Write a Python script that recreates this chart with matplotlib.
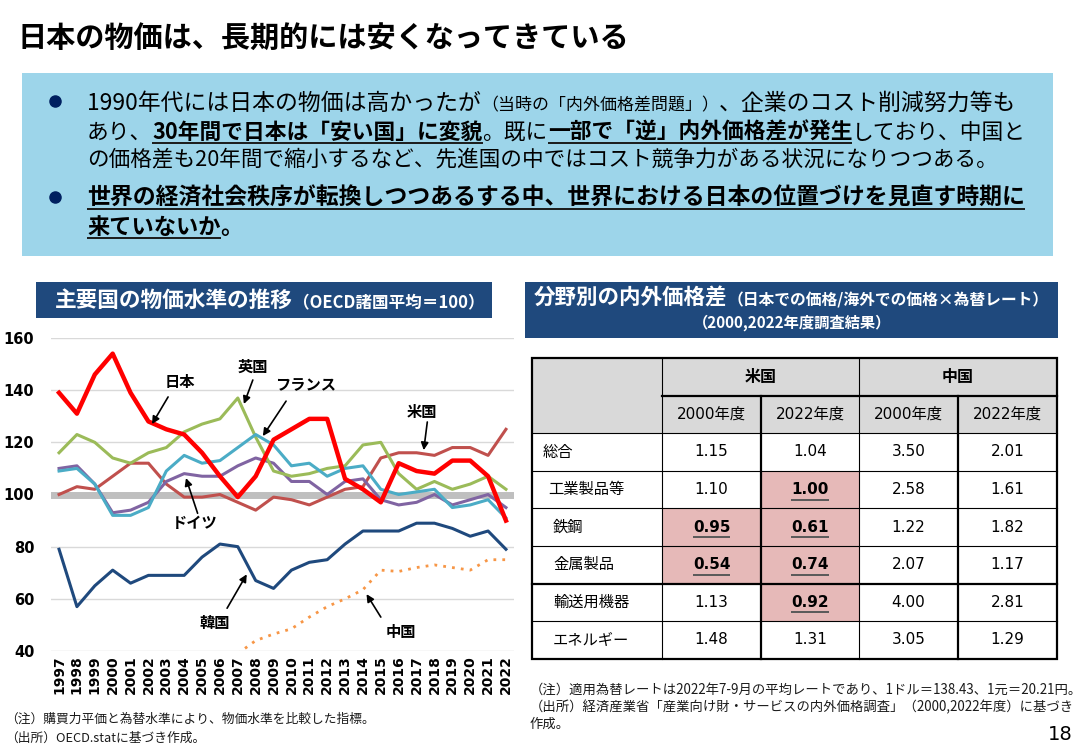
import matplotlib
matplotlib.use('Agg')
import matplotlib.pyplot as plt
from matplotlib.patches import Rectangle
import numpy as np

JP = ['Noto Sans CJK JP', 'DejaVu Sans']
NUM = ['DejaVu Sans', 'Noto Sans CJK JP']
plt.rcParams['font.family'] = JP

# ---- data: price level index (OECD avg = 100)
years = list(range(1997, 2023))
japan = [139, 131, 146, 154, 139, 128, 125, 123, 116, 107, 99, 107, 121,
         125, 129, 129, 106, 102, 97, 112, 109, 108, 113, 113, 107, 90]
uk = [116, 123, 120, 114, 112, 116, 118, 124, 127, 129, 137, 122, 109,
      107, 108, 110, 111, 119, 120, 108, 102, 105, 102, 104, 107, 102]
france = [109, 110, 104, 92, 92, 95, 109, 115, 112, 113, 118, 123, 119,
          111, 112, 107, 110, 111, 102, 100, 101, 102, 95, 96, 98, 91]
germany = [110, 111, 104, 93, 94, 97, 105, 108, 107, 107, 111, 114, 112,
           105, 105, 100, 105, 106, 98, 96, 97, 100, 96, 98, 100, 95]
usa = [100, 103, 102, 107, 112, 112, 104, 99, 99, 100, 97, 94, 99,
       98, 96, 99, 102, 103, 114, 116, 116, 115, 118, 118, 115, 125]
korea = [79, 57, 65, 71, 66, 69, 69, 69, 76, 81, 80, 67, 64,
         71, 74, 75, 81, 86, 86, 86, 89, 89, 87, 84, 86, 79]
china = [np.nan] * 10 + [39, 44, 46.5, 48.5, 53, 57, 60, 63.5, 71, 70.5,
                         72, 73, 72, 71, 75, 75]

# ---- data: table
row_labels = ['総合', '工業製品等', '鉄鋼', '金属製品', '輸送用機器', 'エネルギー']
row_indent = [11, 16, 21, 21, 21, 21]
groups = ['米国', '中国']
sub_cols = ['2000年度', '2022年度', '2000年度', '2022年度']
us_2000 = [1.15, 1.10, 0.95, 0.54, 1.13, 1.48]
us_2022 = [1.04, 1.00, 0.61, 0.74, 0.92, 1.31]
cn_2000 = [3.50, 2.58, 1.22, 2.07, 4.00, 3.05]
cn_2022 = [2.01, 1.61, 1.82, 1.17, 2.81, 1.29]

W, H = 1084, 750
fig = plt.figure(figsize=(W / 100, H / 100), dpi=100)
ov = fig.add_axes([0, 0, 1, 1])
ov.set_xlim(0, W)
ov.set_ylim(H, 0)
ov.axis('off')
renderer = fig.canvas.get_renderer()


def measure(s, size, bold, family=JP):
    t = ov.text(0, 0, s, fontsize=size, fontweight='bold' if bold else 'normal', family=family)
    w = t.get_window_extent(renderer).width
    t.remove()
    return w


def put_line(x, y, parts, end=None, color='black', ul_color='#1a1a1a'):
    scale = 1.0
    if end is not None:
        total = sum(measure(s, sz, b) for s, sz, b, u in parts)
        scale = (end - x) / total
    for s, sz, b, u in parts:
        t = ov.text(x, y, s, fontsize=sz * scale, fontweight='bold' if b else 'normal',
                    va='baseline', ha='left', color=color)
        w = t.get_window_extent(renderer).width
        if u:
            ov.plot([x, x + w], [y + 4, y + 4], color=ul_color, lw=1.4, solid_capstyle='butt')
        x += w
    return x


# ---- title
ov.text(18, 38, '日本の物価は、長期的には安くなってきている', fontsize=21,
        fontweight='bold', va='center', ha='left')

# ---- summary box
ov.add_patch(Rectangle((22, 73), 1031, 183, fc='#9DD5EA', ec='none'))
ov.plot([55, 55], [101, 197], 'o', ms=8, color='#002060', ls='none')
put_line(87, 110, [('1990年代には日本の物価は高かったが', 15.5, False, False),
                   ('（当時の「内外価格差問題」）', 11.5, False, False),
                   ('、企業のコスト削減努力等も', 15.5, False, False)], end=1015)
put_line(87, 139, [('あり、', 15.5, False, False),
                   ('30年間で日本は「安い国」に変貌', 15.5, True, True),
                   ('。既に', 15.5, False, False),
                   ('一部で「逆」内外価格差が発生', 15.5, True, True),
                   ('しており、中国と', 15.5, False, False)], end=1025)
put_line(87, 166, [('の価格差も20年間で縮小するなど、先進国の中ではコスト競争力がある状況になりつつある。',
                    15.5, False, False)], end=995)
put_line(87, 205, [('世界の経済社会秩序が転換しつつあるする中、世界における日本の位置づけを見直す時期に',
                    16, True, True)], end=1027)
put_line(87, 234, [('来ていないか', 16, True, True), ('。', 16, True, False)])

# ---- section headers
ov.add_patch(Rectangle((36, 282), 456, 36, fc='#1F497D', ec='none'))
put_line(55, 307, [('主要国の物価水準の推移', 15, True, False),
                   ('（OECD諸国平均＝100）', 11.5, True, False)], end=486, color='white')
ov.add_patch(Rectangle((525, 282), 533, 56, fc='#1F497D', ec='none'))
put_line(534, 305, [('分野別の内外価格差', 15, True, False),
                    ('（日本での価格/海外での価格×為替レート）', 11, True, False)], end=1050, color='white')
ov.text(792, 323, '（2000,2022年度調査結果）', fontsize=11, fontweight='bold',
        color='white', ha='center', va='center')

# ---- line chart
ax = fig.add_axes([51 / W, 1 - 651 / H, 463 / W, 313 / H])
ax.set_xlim(1996.55, 2022.45)
ax.set_ylim(40, 160)
ax.set_yticks(range(40, 161, 20))
ax.set_xticks(years)
ax.grid(axis='y', color='#D9D9D9', lw=1)
ax.set_axisbelow(True)
for sp in ax.spines.values():
    sp.set_visible(False)
ax.axhline(100, color='#BFBFBF', lw=5, zorder=1)
ax.tick_params(length=0)
ax.tick_params(axis='y', pad=12)
ax.tick_params(axis='x', pad=3)
for lab in ax.get_yticklabels():
    lab.set_fontfamily('DejaVu Sans')
    lab.set_fontweight('bold')
    lab.set_fontsize(10.5)
ax.set_xticklabels([str(y) for y in years], rotation=90, family='DejaVu Sans',
                   fontweight='bold', fontsize=10)

ax.plot(years, china, color='#F79646', lw=2, ls=(0, (1, 2.2)), zorder=3)
ax.plot(years, korea, color='#1F497D', lw=2.2, zorder=3)
ax.plot(years, usa, color='#C0504D', lw=2.2, zorder=3)
ax.plot(years, germany, color='#8064A2', lw=2.2, zorder=3)
ax.plot(years, uk, color='#9BBB59', lw=2.2, zorder=3)
ax.plot(years, france, color='#4BACC6', lw=2.2, zorder=3)
ax.plot(years, japan, color='#FF0000', lw=3.2, zorder=4)

labels = [
    ('日本', (2003.74, 143.1), (2003.1, 137.4), (2002.2, 127.0)),
    ('英国', (2007.84, 148.9), (2007.84, 143.9), (2007.34, 134.7)),
    ('フランス', (2010.8, 142.0), (2009.7, 135.8), (2008.4, 122.4)),
    ('米国', (2017.3, 131.6), (2017.6, 127.8), (2017.4, 117.0)),
    ('ドイツ', (2004.6, 89.0), (2004.75, 92.8), (2004.1, 106.3)),
    ('韓国', (2005.7, 50.6), (2006.4, 56.4), (2007.5, 69.4)),
    ('中国', (2016.1, 47.2), (2015.0, 53.0), (2014.2, 61.8)),
]
for name, pos, tail, head in labels:
    ax.text(pos[0], pos[1], name, fontsize=11, fontweight='bold', ha='center',
            va='center', zorder=6)
    ax.annotate('', xy=head, xytext=tail, zorder=6,
                arrowprops=dict(arrowstyle='-|>', color='black', lw=1.2,
                                mutation_scale=11, shrinkA=0, shrinkB=0))

# ---- table
col_edges = [532, 662, 761, 859, 958, 1057]
top = 358
rh = 37.6
n_rows = 2 + len(row_labels)
bottom = top + n_rows * rh

ov.add_patch(Rectangle((col_edges[0], top), col_edges[-1] - col_edges[0], 2 * rh,
                       fc='#D9D9D9', ec='none'))
columns = [us_2000, us_2022, cn_2000, cn_2022]
for c, vals in enumerate(columns):
    for r, v in enumerate(vals):
        y0 = top + (r + 2) * rh
        cx = (col_edges[c + 1] + col_edges[c + 2]) / 2
        if c < 2 and v <= 1.0:
            ov.add_patch(Rectangle((col_edges[c + 1], y0), col_edges[c + 2] - col_edges[c + 1],
                                   rh, fc='#E6B9B8', ec='none'))
            t = ov.text(cx, y0 + rh / 2, f'{v:.2f}', fontsize=11, fontweight='bold',
                        family=NUM, ha='center', va='center')
            w = t.get_window_extent(renderer).width
            ov.plot([cx - w / 2, cx + w / 2], [y0 + rh / 2 + 10, y0 + rh / 2 + 10],
                    color='#595959', lw=1.4, solid_capstyle='butt')
        else:
            ov.text(cx, y0 + rh / 2, f'{v:.2f}', fontsize=11, family=NUM,
                    ha='center', va='center')

for r, lab in enumerate(row_labels):
    ov.text(col_edges[0] + row_indent[r], top + (r + 2.5) * rh, lab, fontsize=11,
            family=NUM, ha='left', va='center')
for g, name in enumerate(groups):
    cx = (col_edges[1 + 2 * g] + col_edges[3 + 2 * g]) / 2
    ov.text(cx, top + 0.5 * rh, name, fontsize=11.5, fontweight='bold', ha='center', va='center')
for c, name in enumerate(sub_cols):
    cx = (col_edges[c + 1] + col_edges[c + 2]) / 2
    ov.text(cx, top + 1.5 * rh, name, fontsize=11, family=NUM, ha='center', va='center')

thin, thick = 0.8, 1.6
# horizontal lines
for i in range(2, n_rows):
    lw = thick if i == 6 else thin
    ov.plot([col_edges[0], col_edges[-1]], [top + i * rh] * 2, color='black', lw=lw)
ov.plot([col_edges[1], col_edges[-1]], [top + rh] * 2, color='black', lw=thick)
# vertical lines
ov.plot([col_edges[1]] * 2, [top, bottom], color='black', lw=thin)
ov.plot([col_edges[3]] * 2, [top, bottom], color='black', lw=thin)
ov.plot([col_edges[2]] * 2, [top + rh, bottom], color='black', lw=thick)
ov.plot([col_edges[4]] * 2, [top + rh, bottom], color='black', lw=thick)
ov.add_patch(Rectangle((col_edges[0], top), col_edges[-1] - col_edges[0], bottom - top,
                       fc='none', ec='black', lw=thick))

# ---- footnotes
ov.text(5, 719, '（注）購買力平価と為替水準により、物価水準を比較した指標。', fontsize=9.2,
        va='center', ha='left', color='#1a1a1a')
ov.text(5, 738, '（出所）OECD.statに基づき作成。', fontsize=9.2, va='center', ha='left',
        color='#1a1a1a')
ov.text(530, 690, '（注）適用為替レートは2022年7-9月の平均レートであり、1ドル＝138.43、1元＝20.21円。',
        fontsize=9.6, va='center', ha='left', color='#1a1a1a')
ov.text(530, 707, '（出所）経済産業省「産業向け財・サービスの内外価格調査」（2000,2022年度）に基づき',
        fontsize=9.6, va='center', ha='left', color='#1a1a1a')
ov.text(530, 724, '作成。', fontsize=9.6, va='center', ha='left', color='#1a1a1a')
ov.text(1073, 735, '18', fontsize=14, family='DejaVu Sans', va='center', ha='right')

fig.savefig('out.png', dpi=100)
